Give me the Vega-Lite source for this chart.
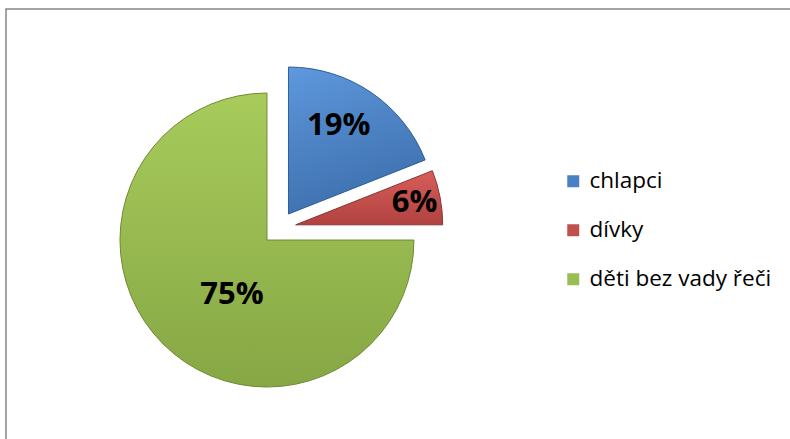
{
  "$schema": "https://vega.github.io/schema/vega-lite/v6.json",
  "width": 786,
  "height": 432,
  "autosize": {"type": "none"},
  "padding": {"left": 6, "top": 9, "right": -2, "bottom": -2},
  "background": "white",
  "view": {"stroke": "#868686", "strokeWidth": 1.5, "fill": "white"},
  "config": {"view": {"stroke": "#868686", "strokeWidth": 1.5}},
  "data": {"values": [
    {"kategorie": "chlapci", "podil": 19, "poradi": 1, "popisek": "19%"},
    {"kategorie": "dívky", "podil": 6, "poradi": 2, "popisek": "6%"},
    {"kategorie": "děti bez vady řeči", "podil": 75, "poradi": 3, "popisek": "75%"}
  ]},
  "encoding": {
    "theta": {"field": "podil", "type": "quantitative", "stack": true},
    "order": {"field": "poradi", "type": "quantitative"}
  },
  "layer": [
    {
      "mark": {"type": "arc", "outerRadius": 0, "x": {"expr": "width*0.3473"}, "y": {"expr": "height*0.507"}},
      "encoding": {
        "color": {"field": "kategorie", "type": "nominal",
          "scale": {"domain": ["chlapci", "dívky", "děti bez vady řeči"], "range": ["#4A80C4", "#C0504D", "#99BD52"]},
          "legend": {"orient": "none", "legendX": 556, "legendY": 161, "title": null, "symbolType": "square", "symbolSize": 144, "symbolStrokeWidth": 1, "labelFont": "Open Sans", "labelFontSize": 22.5, "labelColor": "#000000", "labelOffset": 5, "labelLimit": 400, "rowPadding": 26, "padding": 0}}
      }
    },
    {
      "mark": {"type": "arc", "outerRadius": 147, "x": {"expr": "width*0.3473"}, "y": {"expr": "height*0.507"}, "xOffset": 9.5, "yOffset": -14, "stroke": "#2F5D96", "strokeWidth": 1,
        "fill": {"gradient": "linear", "x1": 0, "y1": 0, "x2": 0.3, "y2": 1, "stops": [{"offset": 0, "color": "#5E98DD"}, {"offset": 1, "color": "#3E70AE"}]}},
      "encoding": {
        "opacity": {"condition": {"test": "datum.kategorie === 'chlapci'", "value": 1}, "value": 0}
      }
    },
    {
      "mark": {"type": "arc", "outerRadius": 147, "x": {"expr": "width*0.3473"}, "y": {"expr": "height*0.507"}, "xOffset": 16.7, "yOffset": -3.2, "stroke": "#8A3533", "strokeWidth": 1,
        "fill": {"gradient": "linear", "x1": 0, "y1": 0, "x2": 0, "y2": 1, "stops": [{"offset": 0, "color": "#D85E5A"}, {"offset": 1, "color": "#B0423F"}]}},
      "encoding": {
        "opacity": {"condition": {"test": "datum.kategorie === 'dívky'", "value": 1}, "value": 0}
      }
    },
    {
      "mark": {"type": "arc", "outerRadius": 147, "x": {"expr": "width*0.3473"}, "y": {"expr": "height*0.507"}, "xOffset": -12, "yOffset": 12, "stroke": "#6E8C35", "strokeWidth": 1,
        "fill": {"gradient": "linear", "x1": 0, "y1": 0, "x2": 0, "y2": 1, "stops": [{"offset": 0, "color": "#A8CB5C"}, {"offset": 1, "color": "#86A744"}]}},
      "encoding": {
        "opacity": {"condition": {"test": "datum.kategorie === 'děti bez vady řeči'", "value": 1}, "value": 0}
      }
    },
    {
      "mark": {"type": "text", "font": "Open Sans", "fontWeight": "bold", "fontSize": 31, "align": "center", "baseline": "middle", "radius": 102, "x": {"expr": "width*0.3473"}, "y": {"expr": "height*0.507"}, "xOffset": 2.5, "yOffset": -18, "color": "#000000"},
      "encoding": {
        "text": {"condition": {"test": "datum.kategorie === 'chlapci'", "field": "popisek"}, "value": ""}
      }
    },
    {
      "mark": {"type": "text", "font": "Open Sans", "fontWeight": "bold", "fontSize": 31, "align": "center", "baseline": "middle", "radius": 121, "x": {"expr": "width*0.3473"}, "y": {"expr": "height*0.507"}, "xOffset": 16.7, "yOffset": -2.5, "color": "#000000"},
      "encoding": {
        "text": {"condition": {"test": "datum.kategorie === 'dívky'", "field": "popisek"}, "value": ""}
      }
    },
    {
      "mark": {"type": "text", "font": "Open Sans", "fontWeight": "bold", "fontSize": 31, "align": "center", "baseline": "middle", "radius": 67, "x": {"expr": "width*0.3473"}, "y": {"expr": "height*0.507"}, "xOffset": 0.4, "yOffset": 20, "color": "#000000"},
      "encoding": {
        "text": {"condition": {"test": "datum.kategorie === 'děti bez vady řeči'", "field": "popisek"}, "value": ""}
      }
    }
  ]
}
